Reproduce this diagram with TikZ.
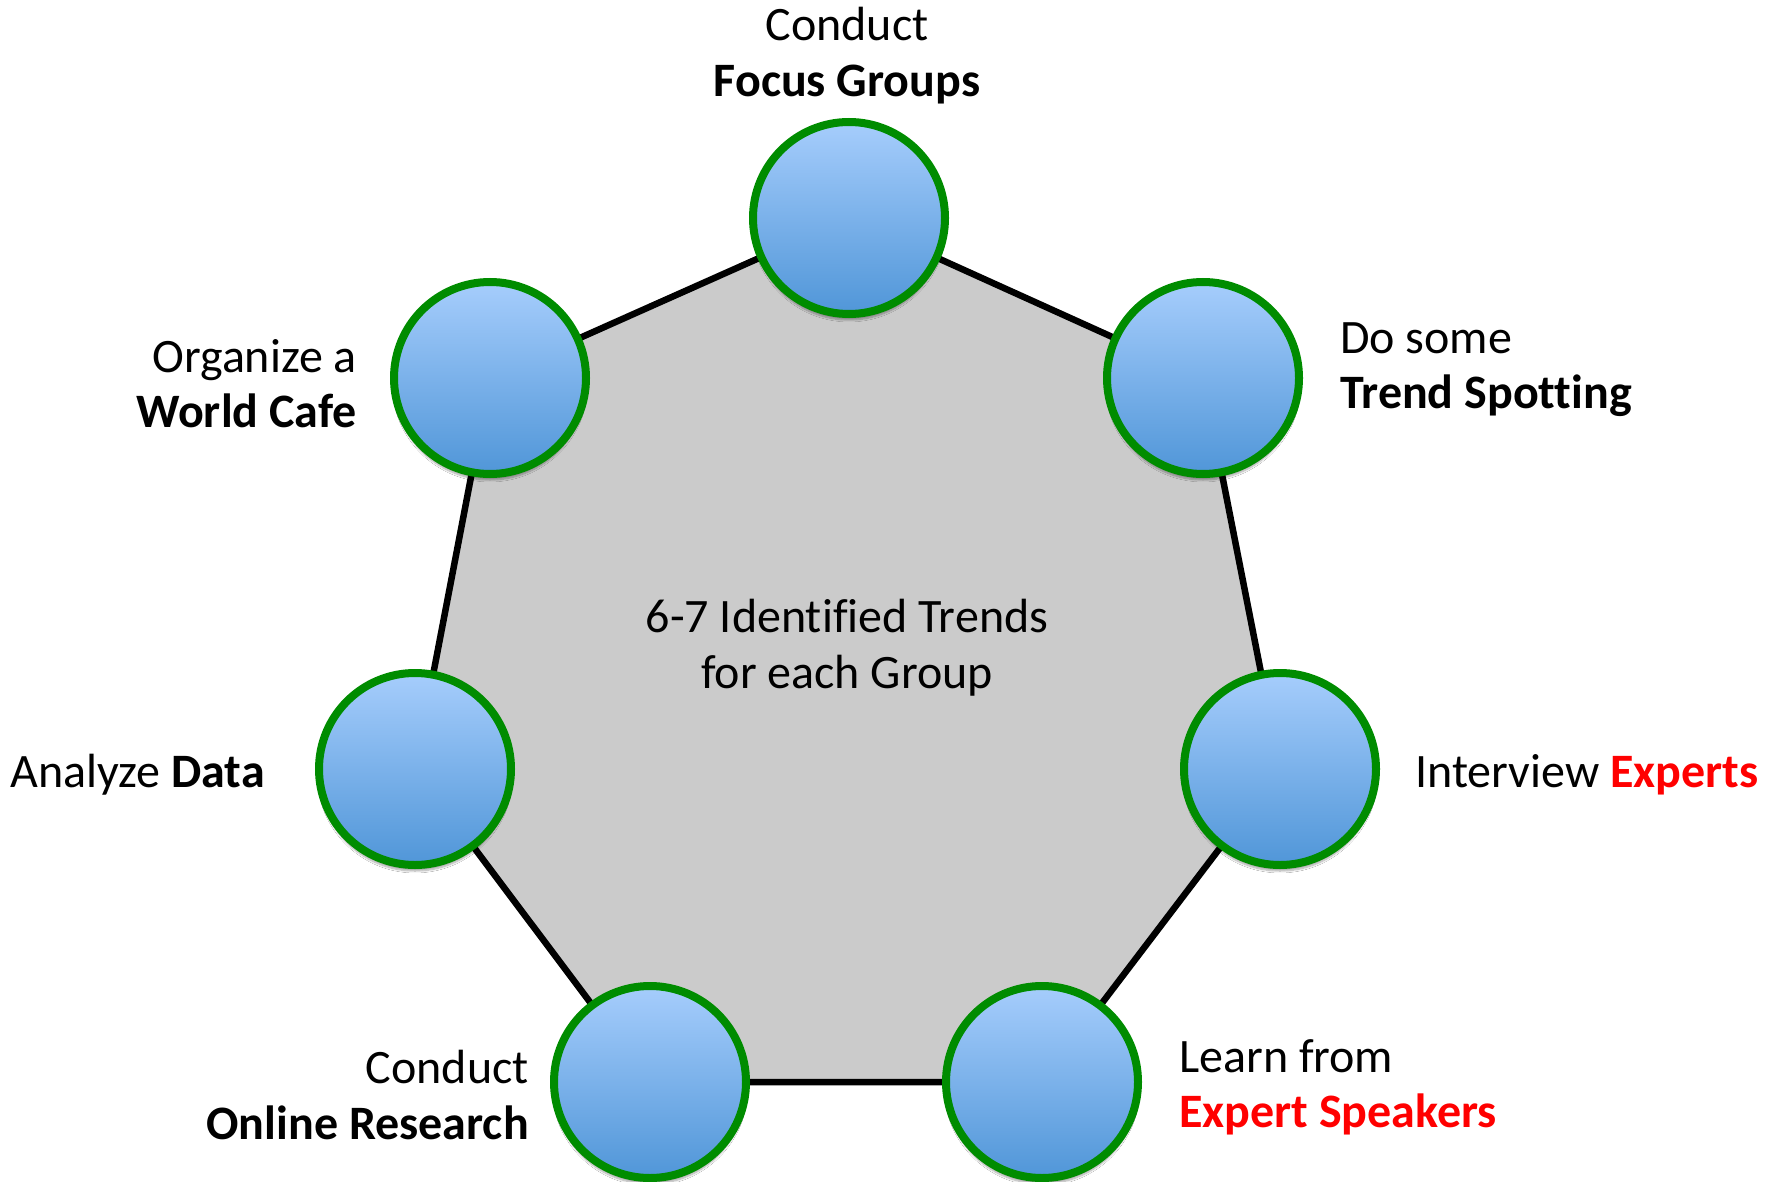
\documentclass[tikz,border=0pt]{standalone}
\usepackage{fontspec}
\setmainfont[Ligatures=NoCommon]{Carlito}
\usetikzlibrary{backgrounds,shadows.blur}
\definecolor{ringgreen}{RGB}{0,140,0}
\definecolor{balltop}{RGB}{166,205,252}
\definecolor{ballbot}{RGB}{80,150,216}
\definecolor{hexfill}{RGB}{203,203,203}
\definecolor{hotred}{RGB}{255,0,0}
\begin{document}
\begin{tikzpicture}[x=1pt,y=-1pt,
  ball/.style={circle, inner sep=0pt, minimum size=192pt, line width=8pt,
    draw=ringgreen, top color=balltop, bottom color=ballbot,
    blur shadow={shadow xshift=0pt, shadow yshift=-6pt, shadow opacity=35, shadow blur steps=8}},
  lbl/.style={inner sep=0pt, font=\fontsize{48}{57}\selectfont},
  rim/.style={line width=6.5pt, line join=round, draw=black, fill=hexfill}]
\useasboundingbox (0,0) rectangle (1766,1182);

% the seven activity discs
\node[ball] (T)  at (849,218)  {};
\node[ball] (TR) at (1203,378) {};
\node[ball] (R)  at (1280,769) {};
\node[ball] (BR) at (1042,1082) {};
\node[ball] (BL) at (650,1082) {};
\node[ball] (L)  at (415,769)  {};
\node[ball] (TL) at (490,378)  {};

% grey heptagon joining the disc centres
\begin{scope}[on background layer]
  \fill[white] (0,0) rectangle (1766,1182);
  \draw[rim] (T.center) -- (TR.center) -- (R.center) -- (BR.center)
    -- (BL.center) -- (L.center) -- (TL.center) -- cycle;
\end{scope}

% centre text
\node[lbl, anchor=base] (c1) at (847,632) {6-7 Identified Trends};
\node[lbl, anchor=base] (c2) at (847,688) {for each Group};

% labels
\node[lbl, anchor=base] (t1) at (847,41) {Conduct};
\node[lbl, anchor=base] (t2) at (847,97) {\bfseries Focus Groups};

\node[lbl, anchor=base west] (tr1) at (1340,353) {Do some};
\node[lbl, anchor=base west] (tr2) at (1340,408) {\bfseries Trend Spotting};

\node[lbl, anchor=base west] (r1) at (1415,787) {Interview {\bfseries\color{hotred}Experts}};

\node[lbl, anchor=base west] (br1) at (1179,1072) {Learn from};
\node[lbl, anchor=base west] (br2) at (1179,1127) {\bfseries\color{hotred}Expert Speakers};

\node[lbl, anchor=base east] (bl1) at (529,1083) {Conduct};
\node[lbl, anchor=base east] (bl2) at (529,1139) {\bfseries Online Research};

\node[lbl, anchor=base east] (l1) at (265,787) {Analyze \textbf{Data}};

\node[lbl, anchor=base east] (tl1) at (357,372) {Organize a};
\node[lbl, anchor=base east] (tl2) at (357,427) {\bfseries World Cafe};
\end{tikzpicture}
\end{document}
